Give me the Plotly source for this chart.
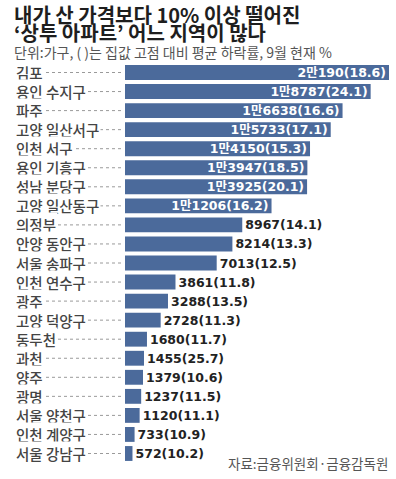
import plotly.graph_objects as go

categories = ["김포", "용인 수지구", "파주", "고양 일산서구", "인천 서구", "용인 기흥구",
              "성남 분당구", "고양 일산동구", "의정부", "안양 동안구", "서울 송파구",
              "인천 연수구", "광주", "고양 덕양구", "동두천", "과천", "양주", "광명",
              "서울 양천구", "인천 계양구", "서울 강남구"]
households = [20190, 18787, 16638, 15733, 14150, 13947, 13925, 11206, 8967, 8214, 7013,
              3861, 3288, 2728, 1680, 1455, 1379, 1237, 1120, 733, 572]
decline_rate = [18.6, 24.1, 16.6, 17.1, 15.3, 18.5, 20.1, 16.2, 14.1, 13.3, 12.5,
                11.8, 13.5, 11.3, 11.7, 25.7, 10.6, 11.5, 11.1, 10.9, 10.2]

title_lines = ["내가 산 가격보다 10% 이상 떨어진", "‘상투 아파트’ 어느 지역이 많나"]
subtitle = "단위:가구, ( )는 집값 고점 대비 평균 하락률, 9월 현재 %"
source = "자료:금융위원회·금융감독원"

W, H = 396, 479
ML, MR, MT, MB = 125, 4, 60, 13
PW, PH = W - ML - MR, H - MT - MB


def px(x):  # window pixel -> paper x
    return (x - ML) / PW


def py(y):  # window pixel -> paper y
    return (MT + PH - y) / PH


def fmt(v, r):
    if v >= 10000:
        return f"{v // 10000}만{v % 10000}({r})"
    return f"{v}({r})"


labels = [fmt(v, r) for v, r in zip(households, decline_rate)]
positions = ["inside" if v >= 10000 else "outside" for v in households]

BAR = "#4b6a9b"
VAL_FONT = "DejaVu Sans, Noto Sans CJK KR, sans-serif"
KR_FONT = "Noto Sans CJK KR, sans-serif"

fig = go.Figure(go.Bar(
    x=households, y=categories, orientation="h",
    marker=dict(color=BAR, line=dict(width=0)),
    width=0.78,
    text=labels, textposition=positions, textangle=0,
    insidetextanchor="end", constraintext="none", cliponaxis=False,
    insidetextfont=dict(family=VAL_FONT, size=12.5, color="white", weight="bold"),
    outsidetextfont=dict(family=VAL_FONT, size=12.5, color="#222222", weight="bold"),
    hoverinfo="skip",
))

shapes = []
annotations = []
for c in categories:
    shapes.append(dict(type="line", xref="paper", yref="y",
                       x0=px(16), x1=px(123), y0=c, y1=c,
                       line=dict(color="#9a9a9a", width=1, dash="dot")))
    annotations.append(dict(text=c, xref="paper", yref="y", x=px(14), y=c,
                            xanchor="left", yanchor="middle", showarrow=False,
                            bgcolor="white", borderpad=1,
                            font=dict(family=KR_FONT, size=14.5, color="#444444", weight=500)))

header = "<br>".join(
    [f"<span style='font-size:20px;font-weight:bold;fill:#1e1e1e'>{t}</span>" for t in title_lines]
    + [f"<span style='font-size:14px;fill:#555555'>{subtitle}</span>"]
)
annotations += [
    dict(text=header, xref="paper", yref="paper", x=px(12), y=py(31),
         xanchor="left", yanchor="middle", align="left", showarrow=False,
         font=dict(family=KR_FONT, size=13.5, color="#1e1e1e")),
    dict(text=source, xref="paper", yref="paper", x=px(390), y=py(463),
         xanchor="right", yanchor="middle", showarrow=False,
         font=dict(family=KR_FONT, size=13.5, color="#555555")),
]

fig.update_layout(
    width=W, height=H,
    margin=dict(l=ML, r=MR, t=MT, b=MB, pad=0),
    paper_bgcolor="white", plot_bgcolor="white",
    showlegend=False,
    xaxis=dict(range=[0, 20190 * PW / 264], visible=False, fixedrange=True),
    yaxis=dict(categoryorder="array", categoryarray=categories,
               autorange="reversed", showticklabels=False, showgrid=False,
               zeroline=False, showline=False, ticks="", fixedrange=True),
    shapes=shapes,
    annotations=annotations,
)

fig.write_html("out.html", config={"displayModeBar": False},
               post_script="document.body.style.margin='0';")
